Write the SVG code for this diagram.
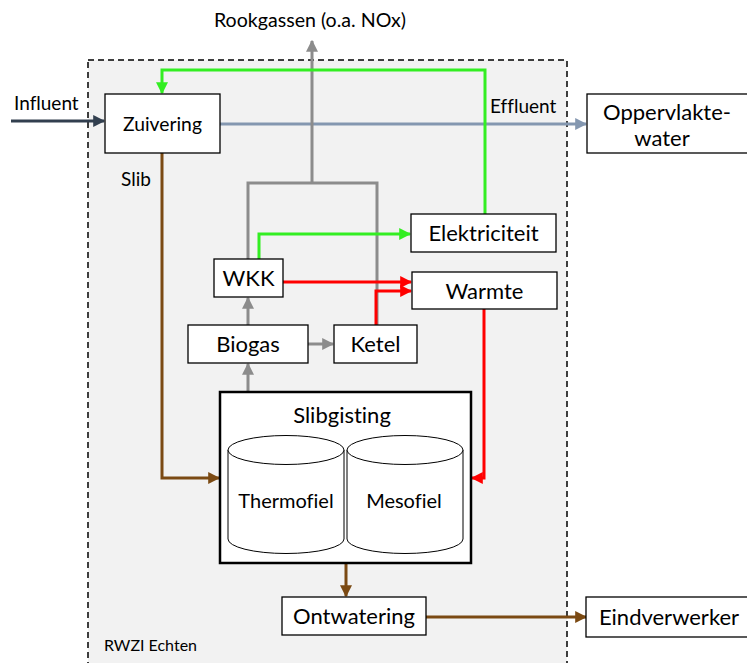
<svg xmlns="http://www.w3.org/2000/svg" width="747" height="663" viewBox="0 0 747 663">
  <style>
    text { font-variant-ligatures: none; font-feature-settings: "liga" 0, "clig" 0; }
    .box { fill: #ffffff; stroke: #000000; stroke-width: 1.3; }
    .lbl { font-family: Lato, "Liberation Sans", sans-serif; font-size: 22px; fill: #000000; text-anchor: middle; }
    .lbl.mid { font-size: 20px; }
    .sm { font-family: Lato, "Liberation Sans", sans-serif; font-size: 19px; fill: #000000; }
    .sm.tiny { font-size: 16px; }
    .ln { fill: none; stroke-width: 3; }
    .gray { stroke: #8c8c8c; }
    .green { stroke: #33ee22; }
    .red { stroke: #ff0000; }
    .brown { stroke: #7b4a13; }
    .blue { stroke: #8497b0; }
    .dark { stroke: #323f4f; }
  </style>
  <defs>
    <marker id="aGray" viewBox="0 0 10 10" refX="9" refY="5" markerWidth="4" markerHeight="4" orient="auto" markerUnits="strokeWidth"><path d="M0,0 L10,5 L0,10 z" fill="#8c8c8c"/></marker>
    <marker id="aGreen" viewBox="0 0 10 10" refX="9" refY="5" markerWidth="4" markerHeight="4" orient="auto" markerUnits="strokeWidth"><path d="M0,0 L10,5 L0,10 z" fill="#33ee22"/></marker>
    <marker id="aRed" viewBox="0 0 10 10" refX="9" refY="5" markerWidth="4" markerHeight="4" orient="auto" markerUnits="strokeWidth"><path d="M0,0 L10,5 L0,10 z" fill="#ff0000"/></marker>
    <marker id="aBrown" viewBox="0 0 10 10" refX="9" refY="5" markerWidth="4" markerHeight="4" orient="auto" markerUnits="strokeWidth"><path d="M0,0 L10,5 L0,10 z" fill="#7b4a13"/></marker>
    <marker id="aBlue" viewBox="0 0 10 10" refX="9" refY="5" markerWidth="4" markerHeight="4" orient="auto" markerUnits="strokeWidth"><path d="M0,0 L10,5 L0,10 z" fill="#8497b0"/></marker>
    <marker id="aDark" viewBox="0 0 10 10" refX="9" refY="5" markerWidth="4" markerHeight="4" orient="auto" markerUnits="strokeWidth"><path d="M0,0 L10,5 L0,10 z" fill="#323f4f"/></marker>
  </defs>

  <rect width="747" height="663" fill="#ffffff"/>

  <!-- plant boundary -->
  <g id="rwzi">
    <rect x="88" y="60" width="479" height="620" fill="#f2f2f2" stroke="#000000" stroke-width="1.5" stroke-dasharray="6 4"/>
    <text class="sm tiny" x="104" y="651">RWZI Echten</text>
  </g>

  <!-- connectors -->
  <g id="connectors">
    <path class="ln dark" d="M11,121 L104,121" marker-end="url(#aDark)"/>
    <path class="ln blue" d="M220,124 L586,124" marker-end="url(#aBlue)"/>
    <path class="ln gray" d="M248,259 L248,183 L377,183 L377,325 M312,183 L312,41" marker-end="url(#aGray)"/>
    <path class="ln green" d="M485,214 L485,70 L162,70 L162,93" marker-end="url(#aGreen)"/>
    <path class="ln green" d="M259,259 L259,234 L410,234" marker-end="url(#aGreen)"/>
    <path class="ln red" d="M283,282 L411,282" marker-end="url(#aRed)"/>
    <path class="ln red" d="M376,325 L376,291 L411,291" marker-end="url(#aRed)"/>
    <path class="ln red" d="M484,309 L484,478 L472,478" marker-end="url(#aRed)"/>
    <path class="ln gray" d="M248,325 L248,298" marker-end="url(#aGray)"/>
    <path class="ln gray" d="M308,344 L333,344" marker-end="url(#aGray)"/>
    <path class="ln gray" d="M248,391 L248,364" marker-end="url(#aGray)"/>
    <path class="ln brown" d="M162,153 L162,478 L219,478" marker-end="url(#aBrown)"/>
    <path class="ln brown" d="M346,564 L346,596" marker-end="url(#aBrown)"/>
    <path class="ln brown" d="M426,617 L586,617" marker-end="url(#aBrown)"/>
    <text class="sm" x="14" y="110">Influent</text>
    <text class="sm" x="490" y="113">Effluent</text>
    <text class="sm" x="121" y="186">Slib</text>
    <text class="sm" x="310" y="27" style="text-anchor:middle;font-size:19.6px">Rookgassen (o.a. NOx)</text>
  </g>

  <g id="zuivering">
    <rect class="box" x="105" y="94" width="115" height="59"/>
    <text class="lbl" x="162.5" y="131" style="font-size:19.3px">Zuivering</text>
  </g>

  <g id="oppervlaktewater">
    <rect class="box" x="587" y="94" width="165" height="59"/>
    <text class="lbl" x="667" y="120">Oppervlakte-</text>
    <text class="lbl" x="662" y="146">water</text>
  </g>

  <g id="elektriciteit">
    <rect class="box" x="411" y="214" width="145" height="38"/>
    <text class="lbl" x="483.5" y="241">Elektriciteit</text>
  </g>

  <g id="wkk">
    <rect class="box" x="214" y="259" width="69" height="38"/>
    <text class="lbl" x="248.5" y="286">WKK</text>
  </g>

  <g id="warmte">
    <rect class="box" x="412" y="272" width="145" height="37"/>
    <text class="lbl" x="484.5" y="299">Warmte</text>
  </g>

  <g id="biogas">
    <rect class="box" x="188" y="325" width="120" height="38"/>
    <text class="lbl" x="248" y="352">Biogas</text>
  </g>

  <g id="ketel">
    <rect class="box" x="334" y="325" width="83" height="38"/>
    <text class="lbl" x="375.5" y="352">Ketel</text>
  </g>

  <g id="slibgisting">
    <rect x="220" y="392" width="251" height="171" fill="#ffffff" stroke="#000000" stroke-width="2.5"/>
    <text class="lbl" x="342" y="423">Slibgisting</text>
    <g fill="#ffffff" stroke="#000000" stroke-width="1">
      <path d="M228,450 L228,539 A58,14.5 0 0 0 344,539 L344,450"/>
      <ellipse cx="286" cy="450" rx="58" ry="14.5"/>
      <path d="M347,450 L347,539 A58,14.5 0 0 0 463,539 L463,450"/>
      <ellipse cx="405" cy="450" rx="58" ry="14.5"/>
    </g>
    <text class="lbl mid" x="286" y="508">Thermofiel</text>
    <text class="lbl mid" x="404" y="508">Mesofiel</text>
  </g>

  <g id="ontwatering">
    <rect class="box" x="282" y="597" width="144" height="38"/>
    <text class="lbl" x="354" y="624">Ontwatering</text>
  </g>

  <g id="eindverwerker">
    <rect class="box" x="586" y="597" width="166" height="40"/>
    <text class="lbl" x="669" y="625">Eindverwerker</text>
  </g>
</svg>
